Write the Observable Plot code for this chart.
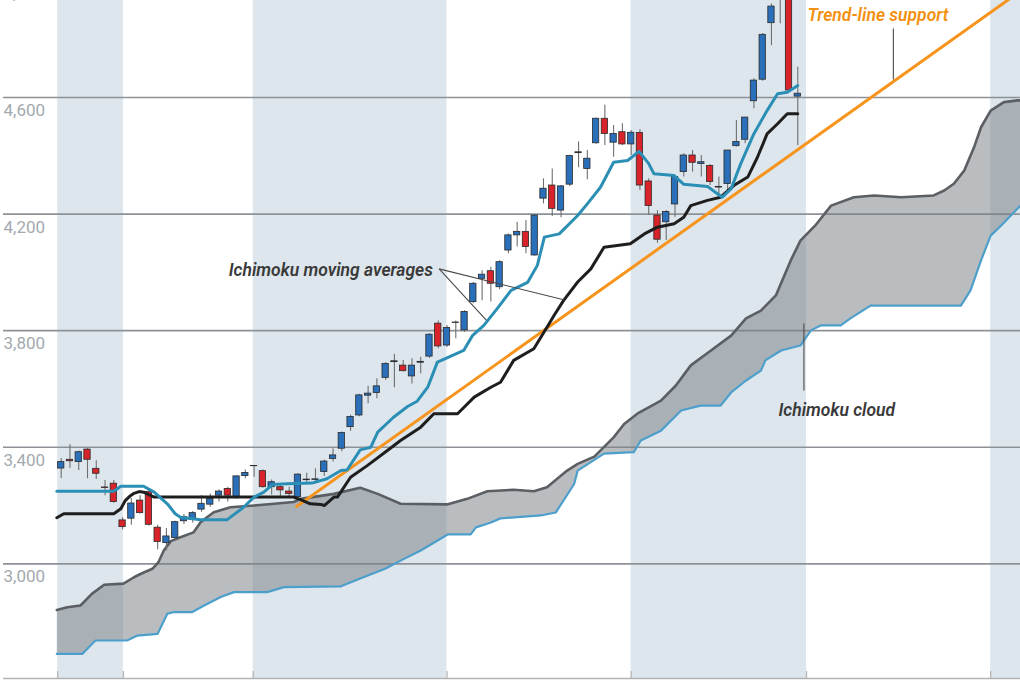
<!DOCTYPE html>
<html><head><meta charset="utf-8">
<script src="https://cdn.jsdelivr.net/npm/d3@7"></script>
<script src="https://cdn.jsdelivr.net/npm/@observablehq/plot@0.6"></script>
<style>
html,body{margin:0;padding:0;background:#fff;overflow:hidden}
#chart svg{display:block;font-family:Roboto,"Open Sans",sans-serif;overflow:visible}
</style></head><body><div id="chart"></div>
<script>
// Daily candles, trading-day index 0..84
const openP  = [3327,3357,3349,3392,3326,3262,3275,3149,3155,3217,3246,3124,3071,3089,3146,3151,3186,3203,3234,3257,3227,3301,3336,3318,3263,3263,3248,3229,3287,3288,3315,3360,3395,3469,3509,3577,3586,3638,3692,3680,3643,3690,3711,3824,3749,3826,3801,3898,3978,4004,3949,4075,4127,4139,4058,4253,4298,4212,4301,4409,4355,4443,4527,4445,4481,4439,4478,4312,4195,4172,4233,4344,4401,4372,4365,4291,4303,4433,4455,4587,4661,4855,4940,4950,4603];
const highP  = [3361,3409,3387,3395,3354,3286,3286,3158,3224,3234,3251,3132,3121,3146,3169,3180,3234,3240,3254,3263,3302,3322,3337,3322,3288,3273,3263,3310,3311,3326,3355,3395,3452,3510,3582,3609,3635,3690,3718,3698,3704,3709,3790,3833,3818,3833,3868,3965,4006,4018,4040,4132,4172,4178,4198,4321,4355,4298,4402,4447,4418,4530,4573,4504,4510,4487,4489,4321,4212,4212,4332,4407,4418,4401,4370,4327,4418,4521,4532,4664,4820,4921,4975,4970,4704];
const lowP   = [3293,3327,3320,3292,3289,3234,3208,3117,3132,3171,3130,3048,3045,3087,3135,3140,3177,3194,3212,3212,3222,3292,3297,3260,3236,3229,3229,3225,3275,3275,3300,3349,3385,3455,3505,3549,3566,3630,3604,3658,3617,3652,3705,3738,3742,3772,3795,3893,3903,3898,3940,4064,4087,4064,4055,4235,4192,4187,4295,4359,4318,4440,4435,4395,4435,4401,4281,4195,4100,4109,4189,4327,4344,4327,4298,4258,4270,4430,4441,4561,4656,4778,4853,4620,4435];
const closeP = [3349,3352,3383,3357,3309,3260,3212,3126,3207,3174,3134,3075,3094,3143,3160,3174,3206,3223,3248,3234,3300,3312,3335,3263,3280,3252,3240,3306,3289,3290,3351,3372,3449,3504,3578,3584,3609,3686,3695,3661,3680,3693,3786,3746,3809,3828,3864,3961,3992,3961,4035,4127,4139,4087,4195,4287,4218,4295,4399,4412,4390,4527,4475,4475,4439,4479,4298,4228,4112,4207,4327,4401,4376,4378,4310,4293,4418,4447,4531,4658,4815,4912,4945,4624,4613];

// Ichimoku conversion line (tenkan-sen): [day index, value]
const tenkan = [[-0.5,3249],[6.0,3249],[6.8,3266],[9.4,3266],[10.6,3246],[12.1,3206],[13.0,3172],[13.6,3160],[15.9,3151],[18.9,3151],[20.8,3194],[22.0,3229],[23.1,3246],[24.1,3272],[25.8,3275],[28.6,3277],[30.3,3292],[31.9,3320],[32.6,3322],[34.1,3391],[35.3,3400],[36.1,3452],[37.9,3503],[39.5,3540],[40.6,3558],[41.8,3606],[42.9,3692],[44.0,3707],[45.9,3732],[46.9,3783],[48.2,3818],[49.7,3875],[51.3,3938],[53.2,3966],[54.3,4024],[55.1,4121],[56.8,4132],[58.9,4195],[60.0,4235],[61.5,4292],[63.0,4378],[64.6,4384],[65.9,4415],[67.0,4373],[67.6,4338],[69.9,4332],[71.0,4302],[73.7,4295],[74.6,4275],[75.4,4258],[76.4,4287],[77.5,4373],[79.0,4476],[80.5,4555],[81.7,4613],[82.8,4618],[84.0,4641]];
// Ichimoku base line (kijun-sen)
const kijun = [[-0.5,3158],[0.3,3172],[6.0,3172],[6.8,3189],[7.3,3217],[7.9,3234],[8.3,3242],[8.9,3248],[9.4,3246],[10.6,3229],[26.5,3229],[27.3,3220],[28.4,3206],[29.6,3204],[30.0,3200],[31.1,3229],[31.5,3229],[33.0,3297],[34.9,3337],[37.2,3389],[38.7,3423],[41.0,3469],[42.5,3515],[45.2,3515],[47.1,3572],[49.0,3606],[50.1,3623],[51.6,3698],[53.9,3738],[55.4,3812],[56.2,3852],[57.3,3904],[58.9,3967],[60.4,4012],[61.9,4086],[64.9,4098],[66.5,4132],[68.0,4155],[69.9,4167],[71.0,4189],[71.8,4229],[73.7,4247],[75.2,4258],[76.7,4298],[78.3,4327],[79.4,4395],[80.5,4475],[81.7,4510],[82.8,4544],[84.0,4544]];
// Cloud: leading span A (upper edge) and span B (lower edge)
const spanA = [[-0.5,2842],[0.7,2851],[2.2,2857],[3.5,2897],[4.9,2928],[7.1,2932],[8.3,2954],[9.1,2966],[10.4,2983],[11.1,3006],[11.7,3046],[12.5,3078],[13.6,3091],[15.1,3108],[15.9,3143],[17.4,3177],[19.3,3194],[22.0,3200],[24.3,3206],[26.5,3212],[27.3,3223],[31.1,3240],[34.1,3261],[36.1,3240],[38.7,3206],[44.0,3204],[46.3,3223],[48.6,3249],[51.6,3254],[53.9,3249],[55.4,3263],[57.7,3320],[58.9,3343],[60.8,3368],[63.0,3434],[64.2,3480],[65.7,3515],[68.4,3560],[70.1,3612],[71.8,3681],[74.1,3732],[76.4,3783],[78.1,3842],[79.8,3869],[81.5,3921],[83.2,4041],[84.3,4109],[86.0,4161],[87.8,4229],[90.4,4258],[92.7,4264],[95.8,4258],[99.5,4264],[100.7,4281],[101.8,4304],[103.0,4350],[104.1,4429],[104.9,4498],[106.0,4555],[107.5,4584],[109.1,4590],[110,4590]];
const spanB = [[-0.5,2691],[2.4,2691],[3.9,2737],[7.5,2737],[8.7,2754],[11.0,2760],[12.1,2829],[12.8,2834],[14.9,2834],[16.3,2857],[18.2,2886],[19.7,2903],[23.5,2903],[25.4,2920],[31.9,2923],[34.1,2950],[37.0,2984],[38.7,3011],[41.0,3046],[43.3,3087],[44.1,3101],[46.7,3101],[47.3,3125],[49.0,3142],[50.1,3156],[54.7,3166],[56.4,3176],[58.5,3274],[58.9,3320],[61.9,3378],[65.3,3383],[66.1,3423],[68.4,3457],[70.7,3526],[72.9,3543],[75.2,3543],[76.4,3588],[78.1,3629],[79.8,3663],[80.3,3698],[82.1,3732],[84.3,3749],[85.5,3801],[86.6,3818],[88.9,3818],[90.0,3842],[92.3,3886],[102.6,3886],[103.7,3938],[104.9,4041],[106.0,4126],[107.2,4161],[108.3,4195],[109.4,4229],[110,4240]];
// Trend-line support
const trend = [[26.84,3197],[110,4978]];
// Month boundaries (in trading-day index) and shaded months
const monthEdges = [-0.4,7.1,21.9,44.0,65.0,85.0,106.0];
const shaded = [[-0.4,7.1],[21.9,44.0],[65.0,85.0],[106.0,112]];
const yTicks = [3000,3400,3800,4200,4600,5000];
// Annotations
const notesEnd = [{text:"Ichimoku moving averages", i:42.4, v:4006, color:"#3a3a3a"}];
const notesStart = [
  {text:"Trend-line support", i:85.1, v:4880, color:"#f29111"},
  {text:"Ichimoku cloud", i:81.8, v:3528, color:"#3a3a3a"}
];
const leaders = [
  {i1:43.1, v1:4012, i2:48.5, v2:3835},
  {i1:43.1, v1:4012, i2:57.3, v2:3906},
  {i1:94.9, v1:4837, i2:94.9, v2:4662},
  {i1:84.7, v1:3825, i2:84.7, v2:3595}
];

const candles = openP.map((o,i)=>({i,o,h:highP[i],l:lowP[i],c:closeP[i]}));
const xDom = [-6.58, 109.4], yDom = [2606.6, 4932.8];
const poly = spanA.concat(spanB.slice().reverse());
const P = d => d[0], V = d => d[1];
const noteStyle = {x: "i", y: "v", text: "text", fill: d=>d.color, fontSize: 17.5, fontStyle: "italic", fontWeight: 600};

const chart = Plot.plot({
  width: 1020, height: 680,
  marginTop: 0, marginBottom: 2, marginLeft: 3, marginRight: 0,
  x: {domain: xDom, axis: null},
  y: {domain: yDom, axis: null},
  marks: [
    Plot.rect(shaded, {x1: d=>d[0], x2: d=>d[1], fill: "#dde6ed", clip: true}),
    Plot.ruleY(yTicks.filter(t=>t<yDom[1]), {stroke: "#8d9297", strokeWidth: 1.6}),
    Plot.line(poly, {x: P, y: V, fill: "#767b81", fillOpacity: 0.5, stroke: "none", curve: "linear", clip: true}),
    Plot.line(spanB, {x: P, y: V, stroke: "#4d9fcb", strokeWidth: 2.2, clip: true}),
    Plot.line(spanA, {x: P, y: V, stroke: "#5b5e62", strokeWidth: 2.6, clip: true}),
    Plot.ruleX(candles, {x: "i", y1: "l", y2: "h", stroke: "#6f6f6f", strokeWidth: 1.1, clip: true}),
    Plot.rect(candles, {x1: d=>d.i-0.36, x2: d=>d.i+0.36, y1: d=>Math.min(d.o,d.c), y2: d=>Math.max(d.o,d.c),
      fill: d=> d.c>=d.o ? "#2a6fba" : "#d8232a", stroke: "#2a2a2a", strokeWidth: 0.8, clip: true}),
    Plot.line(trend, {x: P, y: V, stroke: "#f7941d", strokeWidth: 3, clip: true}),
    Plot.line(kijun, {x: P, y: V, stroke: "#1e1e1e", strokeWidth: 3, clip: true}),
    Plot.line(tenkan, {x: P, y: V, stroke: "#2b8fb5", strokeWidth: 3, clip: true}),
    Plot.ruleY([yDom[0]], {stroke: "#b3b3b3", strokeWidth: 1.5}),
    Plot.ruleX(monthEdges, {y1: yDom[0], y2: yDom[0] + 24, stroke: "#b3b3b3", strokeWidth: 1.2}),
    Plot.text(yTicks, {x: xDom[0], y: d=>d, text: d=>d3.format(",")(d), textAnchor: "start", dy: 13, fontSize: 17, fill: "#a3a9ae"}),
    Plot.link(leaders, {x1: "i1", y1: "v1", x2: "i2", y2: "v2", stroke: "#4a4a4a", strokeWidth: 1.1}),
    Plot.text(notesEnd, {...noteStyle, textAnchor: "end"}),
    Plot.text(notesStart, {...noteStyle, textAnchor: "start"})
  ]
});
document.getElementById("chart").appendChild(chart);
</script></body></html>
